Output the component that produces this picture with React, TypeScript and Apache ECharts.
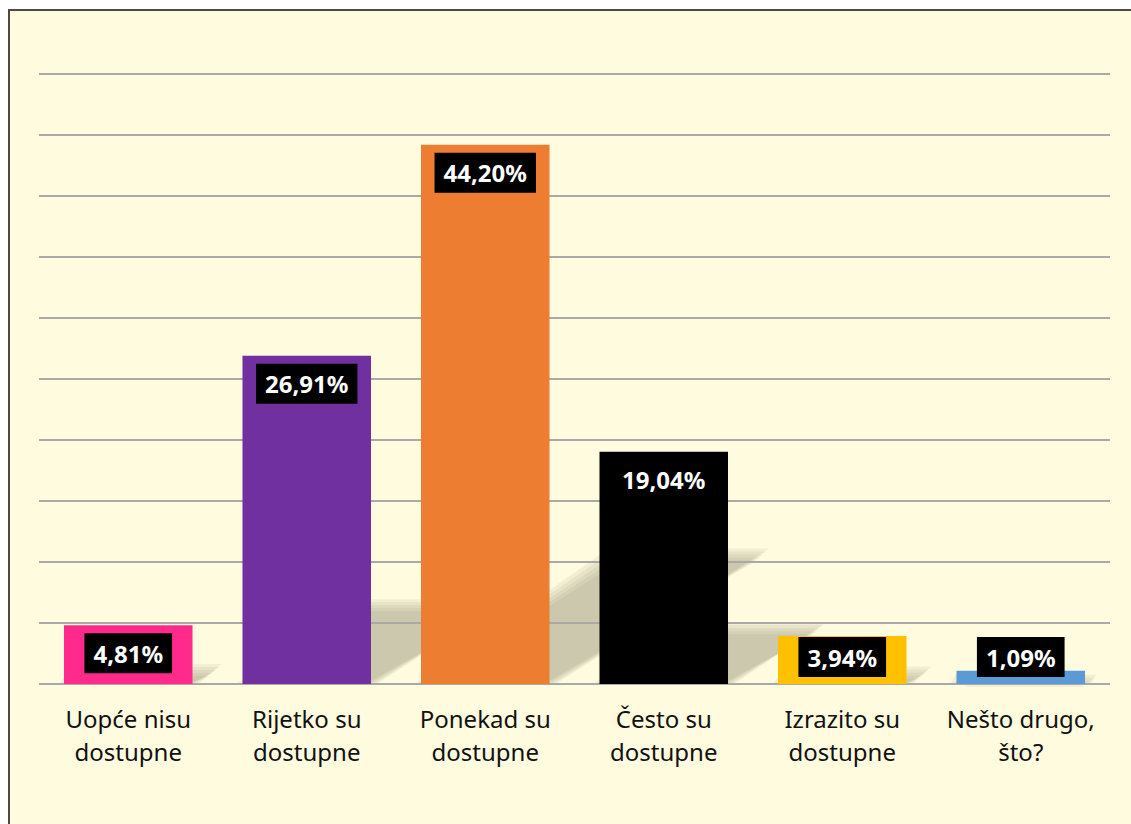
import React, { useEffect, useRef } from "react";
import * as echarts from "echarts";

const categories = [
  "Uopće nisu\ndostupne",
  "Rijetko su\ndostupne",
  "Ponekad su\ndostupne",
  "Često su\ndostupne",
  "Izrazito su\ndostupne",
  "Nešto drugo,\nšto?",
];
const values = [4.81, 26.91, 44.2, 19.04, 3.94, 1.09];
const barColors = ["#FF2A8C", "#7030A0", "#ED7D31", "#000000", "#FFC000", "#5B9BD5"];
const yTicks = { min: 0, max: 50, interval: 5 };

export default function App() {
  const ref = useRef<HTMLDivElement>(null);
  useEffect(() => {
    if (!ref.current) return;
    const chart = echarts.init(ref.current, null, { renderer: "svg" });
    const font = "'Noto Sans', 'DejaVu Sans', sans-serif";
    const labelBase = {
      show: true,
      color: "#fff",
      backgroundColor: "#000",
      fontFamily: font,
      fontWeight: "bold" as const,
      fontSize: 24,
      lineHeight: 24,
      padding: [8, 9, 8, 9],
      formatter: (p: any) => p.value.toFixed(2).replace(".", ",") + "%",
    };
    chart.setOption({
      animation: false,
      backgroundColor: "transparent",
      grid: { left: 29, right: 21, top: 63, bottom: 140 },
      xAxis: {
        type: "category",
        data: categories,
        z: 5,
        axisLine: { show: false },
        axisTick: { show: false },
        axisLabel: {
          color: "#111",
          fontFamily: font,
          fontSize: 24,
          lineHeight: 33,
          margin: 18,
          interval: 0,
        },
      },
      yAxis: {
        type: "value",
        z: 2,
        min: yTicks.min,
        max: yTicks.max,
        interval: yTicks.interval,
        axisLabel: { show: false },
        axisLine: { show: false },
        axisTick: { show: false },
        splitLine: { show: true, lineStyle: { color: "#a9a9a6", width: 2 } },
      },
      series: [
        {
          type: "custom",
          z: 1,
          silent: true,
          data: values,
          renderItem: (params: any, api: any) => {
            const idx = params.dataIndex;
            const v = api.value(0);
            const base = api.coord([idx, 0]);
            const top = api.coord([idx, v]);
            const band = api.size([1, 0])[0];
            const w = band * 0.72;
            const x0 = base[0] - w / 2;
            const x1 = base[0] + w / 2;
            const by = base[1];
            const h = by - top[1];
            const dx = h * 0.36;
            const dy = h * 0.24;
            const layers = [];
            const steps = 5;
            for (let k = 0; k < steps; k++) {
              const inset = (k - 2) * 3;
              layers.push({
                type: "polygon",
                shape: {
                  points: [
                    [x0 + inset, by],
                    [x1 - inset, by],
                    [x1 + dx * 1.1 - inset, by - dy + inset],
                    [x0 + dx + inset, by - dy + inset],
                  ],
                },
                style: { fill: "rgba(150,148,120,0.12)" },
              });
            }
            return { type: "group", children: layers };
          },
          encode: { x: -1, y: 0 },
        },
        {
          type: "bar",
          barWidth: "72%",
          z: 3,
          data: values.map((v, i) => ({
            value: v,
            itemStyle: { color: barColors[i] },
            label:
              v < 4.5
                ? { ...labelBase, position: "insideBottom", distance: 7 }
                : { ...labelBase, position: "insideTop", distance: 8 },
          })),
          label: labelBase,
        },
      ],
    });
    return () => chart.dispose();
  }, []);
  return (
    <div
      style={{
        position: "fixed",
        left: 8,
        top: 9,
        right: 0,
        bottom: 0,
        background: "#FFFBDF",
        borderLeft: "2px solid #4b4b43",
        borderTop: "2px solid #4b4b43",
      }}
    >
      <div ref={ref} style={{ width: "100%", height: "100%" }} />
    </div>
  );
}
